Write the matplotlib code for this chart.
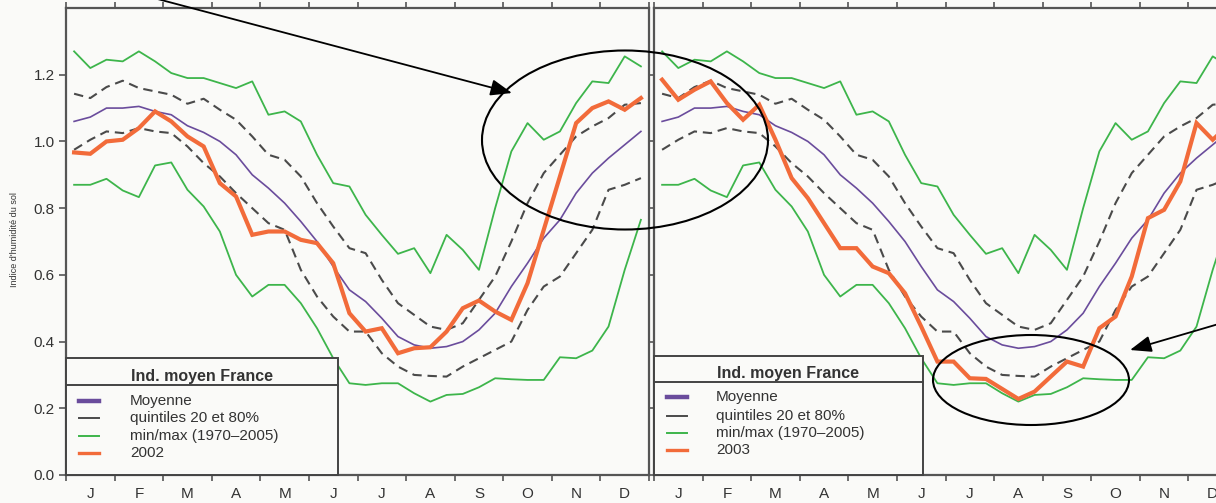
import numpy as np
import matplotlib.pyplot as plt
from matplotlib.patches import Ellipse, Rectangle
from matplotlib.lines import Line2D

plt.rcParams['font.family'] = ['Liberation Sans', 'DejaVu Sans']

##### données : indice d'humidité du sol par décade (36 décades)
mois = ['J', 'F', 'M', 'A', 'M', 'J', 'J', 'A', 'S', 'O', 'N', 'D']
moyenne = [1.06, 1.073, 1.10, 1.10, 1.105, 1.09, 1.08, 1.047, 1.027, 1.0, 0.96, 0.90,
           0.86, 0.815, 0.76, 0.70, 0.625, 0.555, 0.52, 0.47, 0.415, 0.39, 0.38, 0.385,
           0.40, 0.435, 0.485, 0.565, 0.635, 0.71, 0.765, 0.845, 0.905, 0.95, 0.99, 1.03]
q80 = [1.143, 1.13, 1.163, 1.182, 1.16, 1.15, 1.14, 1.113, 1.128, 1.095, 1.065, 1.015,
       0.96, 0.945, 0.895, 0.815, 0.745, 0.68, 0.665, 0.585, 0.515, 0.48, 0.445, 0.435,
       0.455, 0.525, 0.595, 0.70, 0.815, 0.905, 0.96, 1.015, 1.045, 1.07, 1.11, 1.115]
q20 = [0.975, 1.005, 1.03, 1.025, 1.04, 1.03, 1.025, 0.985, 0.935, 0.895, 0.845, 0.80,
       0.755, 0.735, 0.615, 0.535, 0.475, 0.43, 0.43, 0.365, 0.325, 0.30, 0.297, 0.295,
       0.325, 0.35, 0.375, 0.40, 0.495, 0.565, 0.595, 0.665, 0.735, 0.855, 0.87, 0.89]
vmax = [1.27, 1.22, 1.245, 1.24, 1.27, 1.24, 1.205, 1.19, 1.19, 1.175, 1.16, 1.18,
        1.08, 1.09, 1.06, 0.96, 0.875, 0.865, 0.78, 0.72, 0.663, 0.68, 0.605, 0.72,
        0.675, 0.615, 0.80, 0.97, 1.055, 1.005, 1.03, 1.115, 1.18, 1.175, 1.255, 1.225]
vmin = [0.87, 0.87, 0.888, 0.853, 0.833, 0.928, 0.937, 0.855, 0.805, 0.73, 0.60, 0.535,
        0.57, 0.57, 0.515, 0.44, 0.35, 0.275, 0.27, 0.275, 0.275, 0.245, 0.22, 0.24,
        0.243, 0.263, 0.29, 0.287, 0.285, 0.285, 0.353, 0.35, 0.373, 0.445, 0.615, 0.765]
an2002 = [0.967, 0.963, 1.0, 1.005, 1.04, 1.09, 1.06, 1.015, 0.985, 0.875, 0.835, 0.72,
          0.73, 0.73, 0.705, 0.695, 0.635, 0.485, 0.43, 0.44, 0.365, 0.38, 0.383, 0.43,
          0.50, 0.523, 0.49, 0.465, 0.575, 0.735, 0.895, 1.055, 1.10, 1.12, 1.095, 1.13]
an2003 = [1.185, 1.125, 1.155, 1.18, 1.115, 1.065, 1.11, 1.005, 0.89, 0.83, 0.755, 0.68,
          0.68, 0.625, 0.605, 0.545, 0.445, 0.34, 0.34, 0.29, 0.288, 0.258, 0.228, 0.25,
          0.295, 0.34, 0.325, 0.44, 0.475, 0.595, 0.77, 0.795, 0.88, 1.055, 1.005, 1.05]
libelles = ['Moyenne', 'quintiles 20 et 80%', 'min/max (1970\u20132005)']

VIOLET = '#6a4c9c'
GRIS = '#4a4a4a'
VERT = '#3db54b'
ORANGE = '#f26b3a'
FOND = '#fafaf8'
CADRE = '#555555'
W, H = 1216, 503


def panneau(ax, annee, nom, leg):
    x = np.arange(36)
    ax.set_facecolor(FOND)
    ax.plot(x, vmax, color=VERT, lw=1.3)
    ax.plot(x, vmin, color=VERT, lw=1.3)
    ax.plot(x, q80, color=GRIS, lw=1.5, ls=(0, (4.5, 2.8)))
    ax.plot(x, q20, color=GRIS, lw=1.5, ls=(0, (4.5, 2.8)))
    ax.plot(x, moyenne, color=VIOLET, lw=1.2)
    ax.plot(x, annee, color=ORANGE, lw=3.0, solid_joinstyle='miter')
    ax.set_xlim(-0.5, 35.5)
    ax.set_ylim(0, 1.40)

    ax.set_xticks(np.arange(-0.5, 36, 3))
    ax.set_xticklabels([])
    ax.set_xticks(np.arange(1, 36, 3), minor=True)
    ax.set_xticklabels(mois, minor=True)
    ax.tick_params(axis='x', which='major', direction='out', length=4, width=1.2,
                   color=CADRE, top=True, bottom=True)
    ax.tick_params(axis='x', which='minor', length=0, pad=9, labelsize=11, labelcolor='#333333')
    ax.set_yticks(np.arange(0, 1.3, 0.2))
    ax.tick_params(axis='y', direction='out', length=5, width=1.2, color=CADRE,
                   pad=3, labelsize=11, labelcolor='#333333')
    for s in ax.spines.values():
        s.set_color(CADRE)
        s.set_linewidth(1.6)

    # légende encadrée
    bx, top, sep, tx, ty, ex, rows = leg
    ax.add_patch(Rectangle((0, 0), bx, top, transform=ax.transAxes, fc=FOND,
                           ec='#444444', lw=1.4, zorder=5, clip_on=False))
    ax.add_line(Line2D([0, bx], [sep, sep], transform=ax.transAxes, color='#444444',
                       lw=1.4, zorder=6))
    ax.text(tx, ty, 'Ind. moyen France', transform=ax.transAxes, ha='center', va='center',
            fontsize=11.5, fontweight='bold', color='#333333', zorder=7)
    styles = [dict(color=VIOLET, lw=3.2), dict(color=GRIS, lw=1.4),
              dict(color=VERT, lw=1.4), dict(color=ORANGE, lw=2.4)]
    for lab, st, ry in zip(libelles + [nom], styles, rows):
        ax.add_line(Line2D([0.022, 0.057], [ry, ry], transform=ax.transAxes, zorder=7, **st))
        ax.text(ex, ry, lab, transform=ax.transAxes, va='center', ha='left',
                fontsize=11, color='#333333', zorder=7)


fig = plt.figure(figsize=(W / 100, H / 100), dpi=100, facecolor=FOND)
ax1 = fig.add_axes([66 / W, 28 / H, 583 / W, 467 / H])
ax2 = fig.add_axes([654 / W, 28 / H, 583 / W, 467 / H])

panneau(ax1, an2002, '2002', (0.4666, 0.2505, 0.1917, 0.233, 0.211, 0.1098,
                              [0.158, 0.122, 0.0835, 0.047]))
panneau(ax2, an2003, '2003', (0.461, 0.255, 0.199, 0.23, 0.218, 0.1063,
                              [0.167, 0.126, 0.090, 0.0535]))
ax2.set_yticklabels([])
ax2.tick_params(axis='y', length=4)

fig.text(15 / W, 1 - 240 / H, "Indice d'humidit\u00e9 du sol", rotation=90,
         fontsize=6.5, ha='center', va='center', color='#333333')

##### annotations (ellipses et flèches) en pixels
ov = fig.add_axes([0, 0, 1, 1], zorder=10)
ov.set_xlim(0, W)
ov.set_ylim(H, 0)
ov.axis('off')
ov.patch.set_alpha(0)
ov.add_patch(Ellipse((625, 140), 286, 179, fill=False, ec='black', lw=1.5))
ov.add_patch(Ellipse((1031, 380), 196, 90, fill=False, ec='black', lw=1.5))
fleche = dict(arrowstyle='-|>,head_length=1.3,head_width=0.5', color='black', lw=1.3,
              shrinkA=0, shrinkB=0)
ov.annotate('', xy=(512, 93), xytext=(150, -3), arrowprops=fleche, annotation_clip=False)
ov.annotate('', xy=(1130, 350), xytext=(1222, 323), arrowprops=fleche, annotation_clip=False)

fig.savefig('out.png', dpi=100, facecolor=FOND)
